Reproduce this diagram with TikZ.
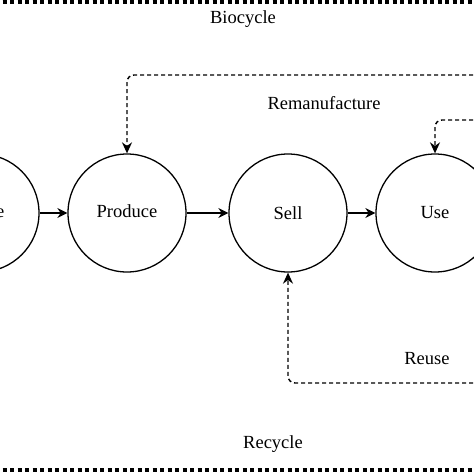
\documentclass[tikz,border=0pt]{standalone}
\usepackage{fontspec}
\setmainfont{Liberation Serif}
\usetikzlibrary{arrows.meta}
\begin{document}
\begin{tikzpicture}[x=1pt,y=-1pt,
    stage/.style={draw, circle, line width=1.3pt, minimum size=118pt, inner sep=0pt,
      font=\fontsize{18.5}{22}\selectfont},
    flow/.style={-{Stealth[length=10pt,width=10pt]}, line width=1.3pt},
    loopback/.style={-{Stealth[length=11pt,width=10pt]}, line width=1.4pt,
      dash pattern=on 4pt off 3pt, rounded corners=7pt},
    border/.style={line width=3.5pt, dash pattern=on 4pt off 3.5pt},
    tag/.style={font=\fontsize{18.5}{22}\selectfont}]
    \useasboundingbox (0,0) rectangle (474,474);

    \draw[border] (-5,2)--(480,2);
    \draw[border] (-5,470)--(480,470);

    \node[stage] (source) at (-20,213) {};
    \node[tag, anchor=east, inner sep=0pt] (sourcetail) at (4.5,213) {e};
    \node[stage] (produce) at (127,213) {};
    \node[tag] (producetext) at (127,211) {Produce};
    \node[stage] (sell) at (288,213) {Sell};
    \node[stage] (use) at (435,213) {Use};

    \draw[flow] (source)--(produce);
    \draw[flow] (produce)--(sell);
    \draw[flow] (sell)--(use);

    % loops coming back from the right
    \coordinate (remanend) at (480,75);
    \coordinate (useend) at (480,120);
    \coordinate (reuseend) at (480,383);
    \draw[loopback] (remanend) -| (produce.north);
    \draw[loopback] (useend) -| (use.north);
    \draw[loopback] (reuseend) -| (sell.south);

    \node[tag] (biocycle) at (243,19) {Biocycle};
    \node[tag] (reman) at (324,103) {Remanufacture};
    \node[tag] (reuse) at (427,359) {Reuse};
    \node[tag] (recycle) at (273,444) {Recycle};
\end{tikzpicture}
\end{document}
